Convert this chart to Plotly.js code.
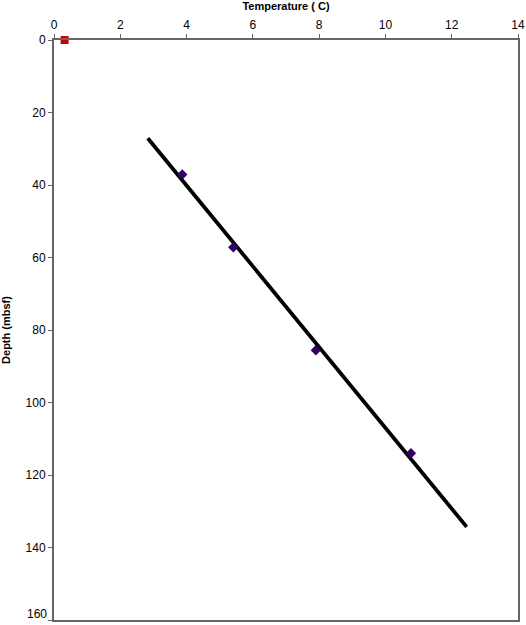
<!DOCTYPE html>
<html>
<head>
<meta charset="utf-8">
<script src="https://cdn.plot.ly/plotly-3.0.1.min.js"></script>
<style>html,body{margin:0;padding:0;background:#fff;}#chart{width:526px;height:625px;}</style>
</head>
<body>
<div id="chart"></div>
<script>
// Measured temperatures
const tempC = [3.87, 5.41, 7.90, 10.77];
const depthMbsf = [37.1, 57.2, 85.6, 114.0];
// Seafloor (bottom water) temperature
const seafloorTemp = [0.32];
const seafloorDepth = [0];
// Fitted gradient line end points
const fitTemp = [2.83, 12.45];
const fitDepth = [27.1, 134.3];
// Depth axis ticks
const depthTicks = [0, 20, 40, 60, 80, 100, 120, 140, 160];
const depthTickText = ['0', '20', '40', '60', '80', '100', '120', '140', ''];
const depthBottomLabel = '160';

const traces = [
  {x: fitTemp, y: fitDepth, mode: 'lines', line: {color: '#000000', width: 3.8}, hoverinfo: 'skip', showlegend: false},
  {x: tempC, y: depthMbsf, mode: 'markers', marker: {symbol: 'diamond', size: 8, color: '#330066'}, showlegend: false},
  {x: seafloorTemp, y: seafloorDepth, mode: 'markers', marker: {symbol: 'square', size: 8, color: '#cc0000'}, showlegend: false, cliponaxis: false}
];

const layout = {
  width: 526, height: 625,
  margin: {l: 54, r: 8, t: 40, b: 5},
  paper_bgcolor: '#ffffff', plot_bgcolor: '#ffffff',
  font: {family: 'Liberation Sans, Arial, sans-serif', size: 12, color: '#000'},
  showlegend: false,
  xaxis: {
    side: 'top', range: [0, 14], dtick: 2, tick0: 0,
    showgrid: false, zeroline: false,
    showline: true, linecolor: '#666666', linewidth: 2, mirror: true,
    ticks: 'outside', ticklen: 4, tickcolor: '#666666',
    tickfont: {size: 12}, ticklabeloverflow: 'allow',
    title: {text: '<b>Temperature ( C)</b>', font: {size: 11}, standoff: 7}
  },
  yaxis: {
    range: [160, 0], tickmode: 'array', tickvals: depthTicks, ticktext: depthTickText,
    showgrid: false, zeroline: false,
    showline: true, linecolor: '#666666', linewidth: 2, mirror: true,
    ticks: 'outside', ticklen: 4, tickcolor: '#666666',
    tickfont: {size: 12},
    title: {text: '<b>Depth (mbsf)</b>', font: {size: 11}, standoff: 14}
  },
  annotations: [{
    text: depthBottomLabel, xref: 'paper', x: 0, yref: 'y', y: depthTicks[depthTicks.length - 1],
    xanchor: 'right', yanchor: 'bottom', xshift: -5, yshift: -3, showarrow: false,
    font: {size: 12, color: '#000'}
  }]
};

Plotly.newPlot('chart', traces, layout, {displayModeBar: false, staticPlot: true});
</script>
</body>
</html>
